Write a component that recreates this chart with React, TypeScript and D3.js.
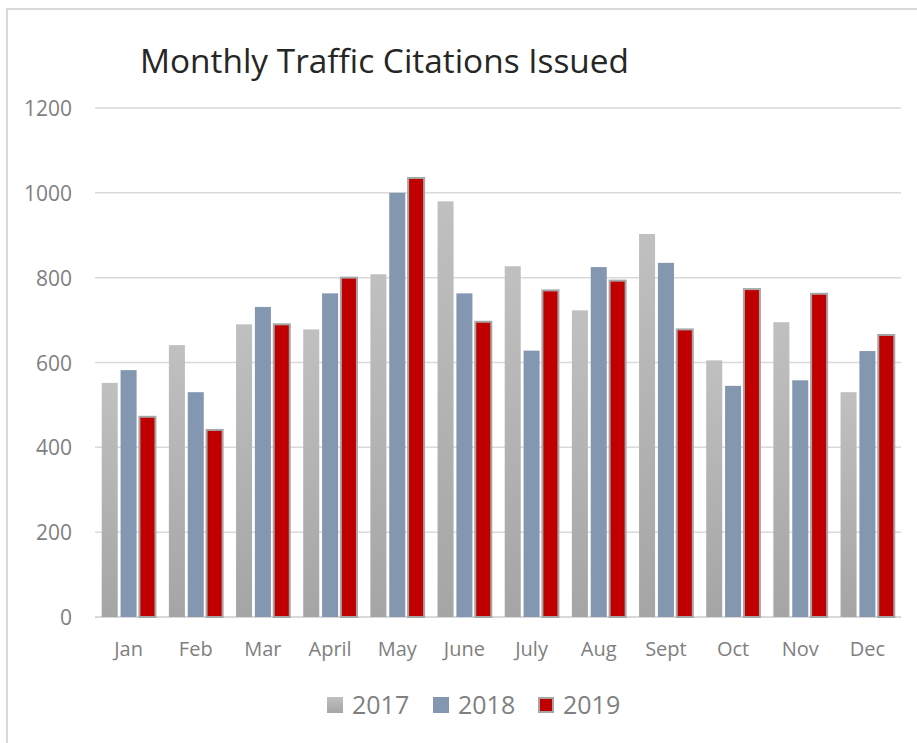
import * as d3 from 'd3';
import React, { useRef, useEffect } from 'react';

const months = ['Jan', 'Feb', 'Mar', 'April', 'May', 'June', 'July', 'Aug', 'Sept', 'Oct', 'Nov', 'Dec'];
const years = ['2017', '2018', '2019'];
const values2017 = [552, 641, 690, 678, 808, 980, 827, 723, 903, 605, 695, 530];
const values2018 = [582, 530, 731, 763, 1000, 763, 628, 825, 835, 545, 558, 627];
const values2019 = [472, 441, 690, 800, 1035, 696, 770, 793, 678, 773, 762, 665];
const yTicks = [0, 200, 400, 600, 800, 1000, 1200];

const seriesValues = [values2017, values2018, values2019];
const fills = ['url(#grad2017)', '#8497b0', '#c00000'];

function App() {
  const svgRef = useRef<SVGSVGElement>(null);
  const width = 917;
  const height = 743;
  const left = 95;
  const right = 901;
  const top = 108;
  const bottom = 617;
  const font = "'Open Sans', sans-serif";

  useEffect(() => {
    const svg = d3.select(svgRef.current);
    svg.selectAll('*').remove();

    const defs = svg.append('defs');
    const grad = defs.append('linearGradient')
      .attr('id', 'grad2017')
      .attr('x1', 0).attr('y1', 0).attr('x2', 0).attr('y2', 1);
    grad.append('stop').attr('offset', '0%').attr('stop-color', '#c0c0c0');
    grad.append('stop').attr('offset', '100%').attr('stop-color', '#a5a5a5');

    // chart frame
    svg.append('rect')
      .attr('x', 7).attr('y', 9)
      .attr('width', 930).attr('height', 760)
      .attr('fill', 'white')
      .attr('stroke', '#d9d9d9').attr('stroke-width', 2);

    svg.append('text')
      .attr('x', 140).attr('y', 73)
      .attr('font-family', font)
      .attr('font-size', 32)
      .attr('textLength', 489)
      .attr('lengthAdjust', 'spacingAndGlyphs')
      .attr('fill', '#262626')
      .text('Monthly Traffic Citations Issued');

    const y = d3.scaleLinear().domain([0, 1200]).range([bottom, top]);
    const x0 = d3.scaleBand().domain(months).range([left, right]).paddingInner(0.2).paddingOuter(0.1);
    const x1 = d3.scaleBand().domain(years).range([0, x0.bandwidth()]).paddingInner(0.15);

    // gridlines
    svg.append('g')
      .selectAll('line')
      .data(yTicks)
      .join('line')
      .attr('x1', left).attr('x2', right)
      .attr('y1', (d) => y(d)).attr('y2', (d) => y(d))
      .attr('stroke', '#d9d9d9')
      .attr('stroke-width', (d) => (d === 0 ? 2 : 1.5));

    svg.append('g')
      .selectAll('text')
      .data(yTicks)
      .join('text')
      .attr('x', 72)
      .attr('y', (d) => y(d) + 8)
      .attr('text-anchor', 'end')
      .attr('font-family', font)
      .attr('font-size', 21)
      .attr('fill', '#7f7f7f')
      .text((d) => d);

    const groups = svg.append('g')
      .selectAll('g')
      .data(months)
      .join('g')
      .attr('transform', (d) => `translate(${x0(d)},0)`);

    groups.selectAll('rect')
      .data((m, i) => years.map((yr, s) => ({ yr, s, v: seriesValues[s][i] })))
      .join('rect')
      .attr('x', (d) => x1(d.yr))
      .attr('y', (d) => y(d.v))
      .attr('width', x1.bandwidth())
      .attr('height', (d) => y(0) - y(d.v))
      .attr('fill', (d) => fills[d.s])
      .attr('stroke', (d) => (d.s === 2 ? '#a6a6a6' : 'none'))
      .attr('stroke-width', 2);

    svg.append('g')
      .selectAll('text')
      .data(months)
      .join('text')
      .attr('x', (d) => x0(d) + x0.bandwidth() / 2)
      .attr('y', 656)
      .attr('text-anchor', 'middle')
      .attr('font-family', font)
      .attr('font-size', 20)
      .attr('fill', '#7f7f7f')
      .text((d) => d);

    // legend
    const legendX = [327, 433, 538];
    const legend = svg.append('g')
      .selectAll('g')
      .data(years)
      .join('g')
      .attr('transform', (d, i) => `translate(${legendX[i]},697)`);
    legend.append('rect')
      .attr('x', (d, i) => (i === 2 ? 1 : 0))
      .attr('y', (d, i) => (i === 2 ? 1 : 0))
      .attr('width', (d, i) => (i === 2 ? 14 : 16))
      .attr('height', (d, i) => (i === 2 ? 14 : 16))
      .attr('fill', (d, i) => fills[i])
      .attr('stroke', (d, i) => (i === 2 ? '#a6a6a6' : 'none'))
      .attr('stroke-width', 2);
    legend.append('text')
      .attr('x', 25)
      .attr('y', 17)
      .attr('font-family', font)
      .attr('font-size', 25)
      .attr('fill', '#7f7f7f')
      .text((d) => d);
  }, []);

  return (
    <svg ref={svgRef} width={width} height={height} style={{ position: 'absolute', left: 0, top: 0 }} />
  );
}

export default App;
